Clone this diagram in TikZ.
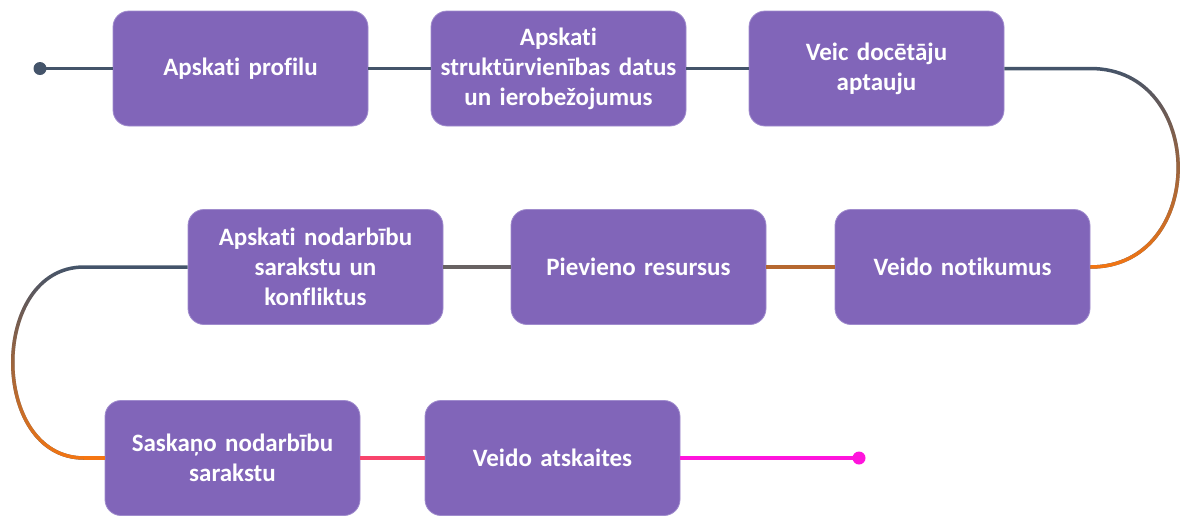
\documentclass[tikz,border=0pt]{standalone}
\usepackage{fontspec}
\setmainfont{Carlito}[Ligatures=NoCommon]
\usetikzlibrary{fadings}
\definecolor{stagefill}{RGB}{129,101,185}
\definecolor{stageedge}{RGB}{160,140,205}
\definecolor{slate}{RGB}{68,84,106}
\definecolor{flame}{RGB}{245,118,18}
\definecolor{rust}{RGB}{182,104,48}
\definecolor{ash}{RGB}{104,98,98}
\definecolor{coral}{RGB}{248,68,108}
\definecolor{fuchsia}{RGB}{255,20,220}
\begin{document}
\begin{tikzpicture}[x=1pt,y=1pt,
    stage/.style={fill=stagefill,draw=stageedge,line width=0.8pt,rounded corners=16pt,
        minimum width=255pt,minimum height=115pt,text width=248pt,align=center,
        inner sep=2pt,text=white,font=\fontsize{25}{30}\selectfont\bfseries},
    link/.style={line width=3.5pt}]
    \useasboundingbox (0,0) rectangle (1180,-515);
    \node[stage] (profils)   at (240.5,-68.5) {Apskati profilu};
    \node[stage] (dati)      at (558.5,-68.5) {Apskati\\struktūrvienības datus\\un ierobežojumus};
    \node[stage] (aptauja)   at (876.5,-68.5) {Veic docētāju\\aptauju};
    \node[stage] (notikumi)  at (962.5,-267)  {Veido notikumus};
    \node[stage] (resursi)   at (638.5,-267)  {Pievieno resursus};
    \node[stage] (saraksts)  at (315.5,-267)  {Apskati nodarbību\\sarakstu un\\konfliktus};
    \node[stage] (saskana)   at (232.5,-458)  {Saskaņo nodarbību\\sarakstu};
    \node[stage] (atskaites) at (552.5,-458)  {Veido atskaites};
    \coordinate (sakums) at (40,0 |- profils);
    \coordinate (beigas) at (859,0 |- atskaites);
    \draw[link,slate] (sakums) -- (profils.west);
    \draw[link,slate] (profils.east) -- (dati.west);
    \draw[link,slate] (dati.east) -- (aptauja.west);
    \draw[link,slate] (aptauja.east) -- (notikumi.east |- aptauja.east) coordinate (labais)
        .. controls +(117,0) and +(117,0) .. (notikumi.east);
    \path[link,draw=flame,path fading=north] (labais)
        .. controls +(117,0) and +(117,0) .. (notikumi.east);
    \draw[link,rust] (notikumi.west) -- (resursi.east);
    \draw[link,ash] (resursi.west) -- (saraksts.east);
    \draw[link,slate] (saraksts.west) -- (84,0 |- saraksts.west) coordinate (kreisais)
        .. controls +(-95,0) and +(-95,0) .. (84,0 |- saskana.west) -- (saskana.west);
    \path[link,draw=flame,path fading=north] (kreisais)
        .. controls +(-95,0) and +(-95,0) .. (84,0 |- saskana.west);
    \draw[link,flame] (84,0 |- saskana.west) -- (saskana.west);
    \draw[link,coral] (saskana.east) -- (atskaites.west);
    \draw[link,fuchsia] (atskaites.east) -- (beigas);
    \fill[slate] (sakums) circle (6.5);
    \fill[fuchsia] (beigas) circle (6.5);
\end{tikzpicture}
\end{document}
